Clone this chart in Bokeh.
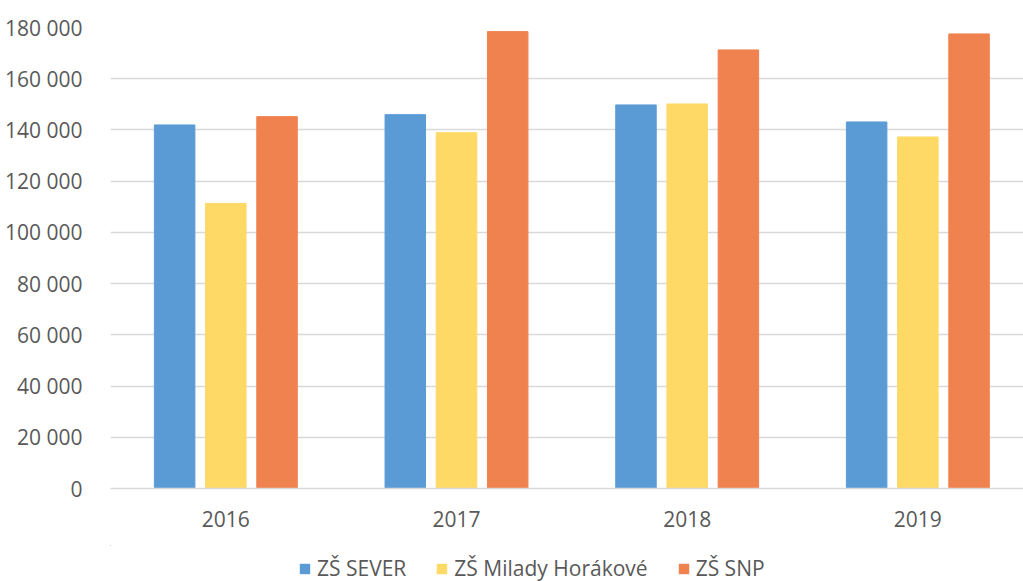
from bokeh.plotting import figure
from bokeh.layouts import column
from bokeh.models import ColumnDataSource, Legend, LegendItem, FixedTicker, Range1d
from bokeh.transform import dodge
from bokeh.embed import file_html
from bokeh.resources import INLINE

years = ["2016", "2017", "2018", "2019"]
sever = [141950, 145970, 149760, 143120]
horakove = [111320, 138940, 150150, 137260]
snp = [145190, 178390, 171240, 177490]
series_names = ["ZŠ SEVER", "ZŠ Milady Horákové", "ZŠ SNP"]
colors = ["#5B9BD5", "#FFD966", "#F08250"]
y_ticks = [0, 20000, 40000, 60000, 80000, 100000, 120000, 140000, 160000, 180000]
y_tick_labels = ["0", "20 000", "40 000", "60 000", "80 000", "100 000", "120 000", "140 000", "160 000", "180 000"]

xpos = [i + 0.5 for i in range(len(years))]
source = ColumnDataSource(data=dict(x=xpos, sever=sever, horakove=horakove, snp=snp))

FONT = "Open Sans"
TXT = "#595959"

p = figure(x_range=Range1d(0, 3.958), y_range=Range1d(0, 180000),
           width=1023, height=545, output_backend="svg", toolbar_location=None,
           min_border_left=110, min_border_right=0, min_border_top=27, min_border_bottom=57)

bw = 40.5 / 230.67
off = 51.2 / 230.67
cols = ["sever", "horakove", "snp"]
for i, (c, col) in enumerate(zip(cols, colors)):
    p.vbar(x=dodge("x", (i - 1) * off), top=c, width=bw, source=source,
           fill_color=col, line_color=col)

p.outline_line_color = None
p.xgrid.grid_line_color = None
p.ygrid.grid_line_color = "#D9D9D9"
p.ygrid.grid_line_width = 1.3

p.yaxis.ticker = FixedTicker(ticks=y_ticks)
p.yaxis.major_label_overrides = {t: l for t, l in zip(y_ticks, y_tick_labels)}
p.yaxis.axis_line_color = None
p.yaxis.major_tick_line_color = None
p.yaxis.minor_tick_line_color = None
p.yaxis.major_label_standoff = 22
p.yaxis.major_label_text_font = FONT
p.yaxis.major_label_text_font_size = "21px"
p.yaxis.major_label_text_color = TXT

p.xaxis.ticker = FixedTicker(ticks=xpos)
p.xaxis.major_label_overrides = {x: y for x, y in zip(xpos, years)}
p.xaxis.axis_line_color = "#D9D9D9"
p.xaxis.axis_line_width = 1.5
p.xaxis.major_tick_line_color = None
p.xaxis.minor_tick_line_color = None
p.xaxis.major_label_standoff = 16
p.xaxis.major_label_text_font = FONT
p.xaxis.major_label_text_font_size = "21px"
p.xaxis.major_label_text_color = TXT

# legend strip (its frame is aligned with the main frame by the column layout);
# its key renderers lie outside its visible window, so only the legend shows
lf = figure(x_range=Range1d(100, 101), y_range=Range1d(-300000, -200000), width=1023, height=36,
            output_backend="svg", toolbar_location=None, x_axis_location=None, y_axis_location=None,
            min_border=0)
lf.outline_line_color = None
lf.grid.visible = False
keys = [lf.vbar(x="x", top=c, width=bw, source=source, fill_color=col, line_color=None)
        for c, col in zip(cols, colors)]
legend = Legend(items=[LegendItem(label=n, renderers=[r]) for n, r in zip(series_names, keys)],
                orientation="horizontal", location=(188, -1),
                glyph_width=13, glyph_height=13, label_standoff=6, spacing=29,
                border_line_color=None, background_fill_alpha=0,
                label_text_font=FONT, label_text_font_size="21px", label_text_color=TXT,
                padding=2, margin=0)
lf.add_layout(legend)

layout = column(p, lf, spacing=0)
open("out.html", "w").write(file_html(layout, INLINE))
